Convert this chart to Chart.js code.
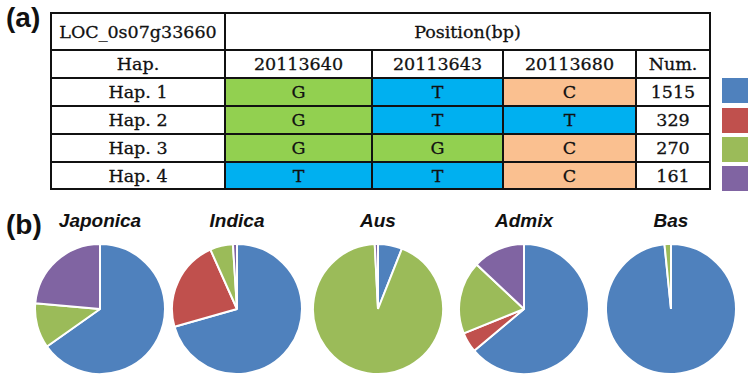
<!DOCTYPE html>
<html>
<head>
<meta charset="utf-8">
<script src="https://cdn.jsdelivr.net/npm/chart.js@4"></script>
<style>
    body { margin: 0; width: 755px; height: 381px; background: #fff; position: relative; overflow: hidden; }
    .panel-label { position: absolute; font-family: "Liberation Sans", Arial, sans-serif; font-weight: bold; font-size: 28px; color: #111; }
    #hap-table { position: absolute; left: 50px; top: 12px; border-collapse: collapse; table-layout: fixed;
        font-family: "DejaVu Serif", serif; font-size: 17.5px; color: #111; -webkit-text-stroke: 0.3px #111; }
    #hap-table td { border: 2px solid #111; text-align: center; padding: 0; overflow: hidden; white-space: nowrap; }
    .legend-box { position: absolute; left: 722px; width: 26px; height: 25px; }
    .pie-title { position: absolute; font-family: "Liberation Sans", Arial, sans-serif; font-weight: bold; font-style: italic;
        font-size: 19px; color: #111; transform: translateX(-50%); white-space: nowrap; }
    .pie-box { position: absolute; width: 132px; height: 132px; }
</style>
</head>
<body>
<div class="panel-label" style="left:6px; top:2px;">(a)</div>
<div class="panel-label" style="left:6px; top:209px;">(b)</div>
<table id="hap-table"></table>
<div id="legend"></div>
<div id="pies"></div>

<script>
// Table data
const geneName = 'LOC_0s07g33660';
const positions = ['20113640', '20113643', '20113680'];
const haplotypes = ['Hap. 1', 'Hap. 2', 'Hap. 3', 'Hap. 4'];
const alleles = [
    ['G', 'T', 'C'],
    ['G', 'T', 'T'],
    ['G', 'G', 'C'],
    ['T', 'T', 'C']
];
const hapCounts = [1515, 329, 270, 161];

// Pie data (% of each group, order Hap.1 .. Hap.4)
const groups = ['Japonica', 'Indica', 'Aus', 'Admix', 'Bas'];
const japonica = [65.2, 0, 11.2, 23.6];
const indica = [70.6, 22.7, 5.7, 1.0];
const aus = [6.0, 0, 93.2, 0.8];
const admix = [63.9, 5.0, 18.1, 13.0];
const bas = [98.4, 0, 1.6, 0];

const hapColors = ['#4F81BD', '#C0504D', '#9BBB59', '#8064A2'];
const alleleColors = { G: '#92D050', T: '#00B0F0', C: '#FAC090' };

// Build table
const colWidths = [174, 147, 131, 133, 74];
const rowHeights = [37, 28, 28, 28, 28, 27];
const table = document.getElementById('hap-table');
const colgroup = document.createElement('colgroup');
colWidths.forEach(w => {
    const col = document.createElement('col');
    col.style.width = w + 'px';
    colgroup.appendChild(col);
});
table.appendChild(colgroup);

function addRow(cells, height) {
    const tr = document.createElement('tr');
    tr.style.height = height + 'px';
    cells.forEach(c => {
        const td = document.createElement('td');
        td.textContent = c.text;
        if (c.span) td.colSpan = c.span;
        if (c.bg) td.style.background = c.bg;
        tr.appendChild(td);
    });
    table.appendChild(tr);
}

addRow([{ text: geneName }, { text: 'Position(bp)', span: 4 }], rowHeights[0]);
addRow([{ text: 'Hap.' }, ...positions.map(p => ({ text: p })), { text: 'Num.' }], rowHeights[1]);
haplotypes.forEach((hap, i) => {
    addRow([
        { text: hap },
        ...alleles[i].map(a => ({ text: a, bg: alleleColors[a] })),
        { text: String(hapCounts[i]) }
    ], rowHeights[i + 2]);
});

// Legend squares
const legendTops = [78, 108, 137, 166];
const legend = document.getElementById('legend');
hapColors.forEach((c, i) => {
    const box = document.createElement('div');
    box.className = 'legend-box';
    box.style.top = legendTops[i] + 'px';
    box.style.background = c;
    legend.appendChild(box);
});

// Pies
const pieData = [japonica, indica, aus, admix, bas];
const pieCenters = [100, 237, 378, 524, 671];
const pieCenterY = 309;
const pies = document.getElementById('pies');

groups.forEach((name, i) => {
    const title = document.createElement('div');
    title.className = 'pie-title';
    title.textContent = name;
    title.style.left = pieCenters[i] + 'px';
    title.style.top = '210px';
    pies.appendChild(title);

    const box = document.createElement('div');
    box.className = 'pie-box';
    box.style.left = (pieCenters[i] - 66) + 'px';
    box.style.top = (pieCenterY - 66) + 'px';
    const canvas = document.createElement('canvas');
    box.appendChild(canvas);
    pies.appendChild(box);

    new Chart(canvas.getContext('2d'), {
        type: 'pie',
        data: {
            labels: haplotypes,
            datasets: [{
                data: pieData[i],
                backgroundColor: hapColors,
                borderColor: '#ffffff',
                borderWidth: 2
            }]
        },
        options: {
            responsive: true,
            maintainAspectRatio: false,
            animation: false,
            plugins: {
                legend: { display: false },
                tooltip: { enabled: false }
            }
        }
    });
});
</script>
</body>
</html>
